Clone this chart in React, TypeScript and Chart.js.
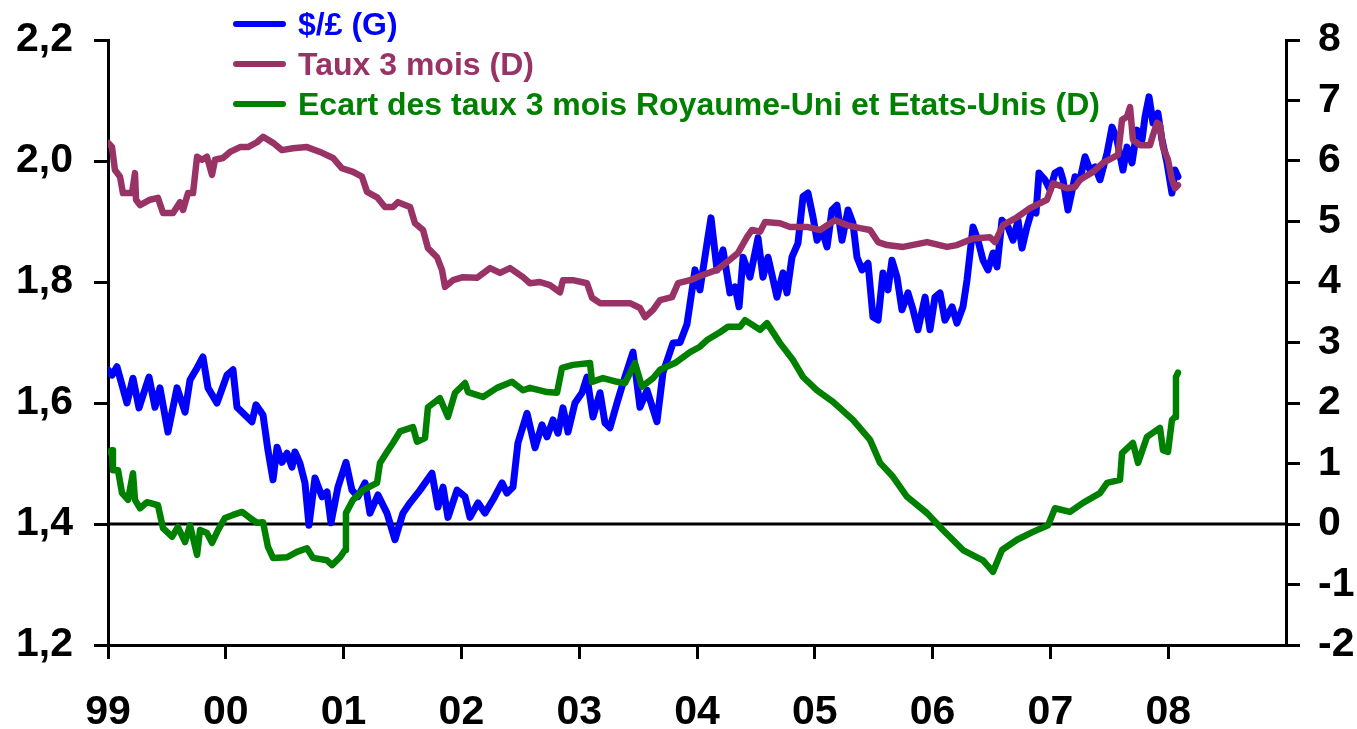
import React, { useEffect, useRef } from "react";
import { Chart, registerables } from "chart.js";

Chart.register(...registerables);

// ---- Data ----
const xTickValues = [1999, 2000, 2001, 2002, 2003, 2004, 2005, 2006, 2007, 2008];
const xTickLabels = ["99", "00", "01", "02", "03", "04", "05", "06", "07", "08"];

const seriesLabels = [
  "$/£ (G)",
  "Taux 3 mois (D)",
  "Ecart des taux 3 mois Royaume-Uni et Etats-Unis (D)",
];

// $/£ (left axis)
const gbpDates = [
  1999.000, 1999.034, 1999.076, 1999.161, 1999.212, 1999.263, 1999.348, 1999.399, 1999.441, 1999.509,
  1999.586, 1999.654, 1999.696, 1999.756, 1999.806, 1999.849, 1999.925, 2000.010, 2000.061, 2000.095,
  2000.180, 2000.222, 2000.256, 2000.316, 2000.358, 2000.401, 2000.435, 2000.477, 2000.520, 2000.562,
  2000.587, 2000.630, 2000.672, 2000.706, 2000.757, 2000.817, 2000.859, 2000.893, 2000.952, 2001.020,
  2001.071, 2001.122, 2001.182, 2001.224, 2001.292, 2001.368, 2001.436, 2001.504, 2001.564, 2001.649,
  2001.750, 2001.801, 2001.844, 2001.886, 2001.963, 2002.031, 2002.073, 2002.141, 2002.200, 2002.268,
  2002.345, 2002.387, 2002.438, 2002.480, 2002.557, 2002.625, 2002.684, 2002.727, 2002.778, 2002.820,
  2002.862, 2002.905, 2002.964, 2003.024, 2003.066, 2003.117, 2003.177, 2003.219, 2003.261, 2003.321,
  2003.372, 2003.457, 2003.516, 2003.576, 2003.660, 2003.711, 2003.796, 2003.856, 2003.915, 2003.983,
  2004.025, 2004.085, 2004.119, 2004.170, 2004.221, 2004.280, 2004.323, 2004.357, 2004.391, 2004.450,
  2004.518, 2004.560, 2004.603, 2004.679, 2004.730, 2004.764, 2004.806, 2004.857, 2004.900, 2004.942,
  2004.985, 2005.019, 2005.061, 2005.104, 2005.146, 2005.188, 2005.231, 2005.282, 2005.324, 2005.358,
  2005.401, 2005.452, 2005.494, 2005.537, 2005.579, 2005.621, 2005.655, 2005.698, 2005.740, 2005.791,
  2005.834, 2005.876, 2005.936, 2005.978, 2006.020, 2006.063, 2006.105, 2006.165, 2006.207, 2006.258,
  2006.292, 2006.343, 2006.385, 2006.428, 2006.470, 2006.513, 2006.547, 2006.589, 2006.640, 2006.683,
  2006.725, 2006.759, 2006.801, 2006.844, 2006.878, 2006.903, 2006.954, 2006.997, 2007.039, 2007.082,
  2007.107, 2007.149, 2007.209, 2007.251, 2007.294, 2007.336, 2007.379, 2007.421, 2007.481, 2007.523,
  2007.565, 2007.616, 2007.650, 2007.693, 2007.735, 2007.778, 2007.803, 2007.837, 2007.871, 2007.913,
  2007.947, 2007.990, 2008.032, 2008.058, 2008.083,
];
const gbpValues = [
  1.655, 1.646, 1.660, 1.600, 1.641, 1.592, 1.643, 1.593, 1.625, 1.552,
  1.625, 1.585, 1.638, 1.658, 1.676, 1.625, 1.600, 1.646, 1.655, 1.593,
  1.577, 1.569, 1.597, 1.580, 1.522, 1.473, 1.527, 1.502, 1.517, 1.494,
  1.519, 1.500, 1.468, 1.398, 1.476, 1.445, 1.453, 1.402, 1.461, 1.502,
  1.456, 1.445, 1.468, 1.418, 1.448, 1.418, 1.374, 1.418, 1.435, 1.456,
  1.484, 1.428, 1.461, 1.411, 1.456, 1.445, 1.411, 1.435, 1.418, 1.440,
  1.468, 1.451, 1.461, 1.534, 1.583, 1.526, 1.564, 1.544, 1.572, 1.550,
  1.592, 1.552, 1.600, 1.617, 1.643, 1.577, 1.617, 1.567, 1.559, 1.600,
  1.633, 1.684, 1.593, 1.621, 1.569, 1.650, 1.699, 1.700, 1.730, 1.820,
  1.787, 1.864, 1.906, 1.820, 1.853, 1.782, 1.792, 1.759, 1.841, 1.808,
  1.873, 1.808, 1.841, 1.775, 1.815, 1.782, 1.841, 1.864, 1.941, 1.947,
  1.907, 1.869, 1.886, 1.858, 1.919, 1.927, 1.869, 1.919, 1.897, 1.841,
  1.820, 1.831, 1.742, 1.737, 1.815, 1.787, 1.836, 1.808, 1.754, 1.782,
  1.754, 1.721, 1.775, 1.721, 1.775, 1.782, 1.737, 1.759, 1.732, 1.759,
  1.803, 1.891, 1.869, 1.836, 1.820, 1.848, 1.825, 1.902, 1.891, 1.869,
  1.902, 1.856, 1.891, 1.919, 1.914, 1.980, 1.969, 1.952, 1.980, 1.985,
  1.969, 1.919, 1.974, 1.969, 2.007, 1.985, 1.990, 1.969, 2.013, 2.056,
  2.035, 1.985, 2.023, 1.997, 2.051, 2.035, 2.073, 2.106, 2.063, 2.079,
  2.035, 1.997, 1.947, 1.985, 1.974,
];

// Taux 3 mois (right axis)
const rateDates = [
  1999.000, 1999.034, 1999.059, 1999.102, 1999.127, 1999.204, 1999.229, 1999.238, 1999.272, 1999.357,
  1999.424, 1999.467, 1999.552, 1999.611, 1999.637, 1999.679, 1999.722, 1999.756, 1999.798, 1999.840,
  1999.883, 1999.908, 1999.976, 2000.036, 2000.121, 2000.188, 2000.265, 2000.316, 2000.401, 2000.477,
  2000.570, 2000.689, 2000.800, 2000.910, 2000.986, 2001.080, 2001.156, 2001.199, 2001.284, 2001.351,
  2001.419, 2001.462, 2001.564, 2001.606, 2001.674, 2001.716, 2001.793, 2001.835, 2001.861, 2001.929,
  2002.014, 2002.132, 2002.243, 2002.328, 2002.413, 2002.523, 2002.582, 2002.667, 2002.752, 2002.837,
  2002.862, 2002.947, 2003.066, 2003.109, 2003.177, 2003.321, 2003.431, 2003.516, 2003.559, 2003.627,
  2003.686, 2003.788, 2003.839, 2003.941, 2004.025, 2004.170, 2004.255, 2004.348, 2004.424, 2004.467,
  2004.535, 2004.577, 2004.705, 2004.790, 2004.934, 2005.044, 2005.171, 2005.273, 2005.384, 2005.469,
  2005.537, 2005.613, 2005.749, 2005.953, 2006.122, 2006.207, 2006.343, 2006.487, 2006.530, 2006.598,
  2006.717, 2006.827, 2006.971, 2007.022, 2007.141, 2007.209, 2007.251, 2007.362, 2007.447, 2007.574,
  2007.608, 2007.650, 2007.676, 2007.701, 2007.761, 2007.845, 2007.871, 2007.905, 2007.930, 2007.956,
  2007.998, 2008.032, 2008.058, 2008.083,
];
const rateValues = [
  6.30, 6.23, 5.85, 5.74, 5.47, 5.47, 5.80, 5.36, 5.27, 5.36,
  5.39, 5.14, 5.14, 5.32, 5.19, 5.47, 5.47, 6.07, 6.02, 6.07,
  5.77, 6.02, 6.05, 6.15, 6.23, 6.23, 6.31, 6.40, 6.30, 6.18,
  6.21, 6.23, 6.15, 6.05, 5.88, 5.82, 5.74, 5.49, 5.40, 5.24,
  5.24, 5.32, 5.24, 4.97, 4.86, 4.56, 4.41, 4.20, 3.92, 4.03,
  4.08, 4.07, 4.23, 4.15, 4.23, 4.08, 3.98, 4.00, 3.95, 3.83,
  4.03, 4.03, 3.98, 3.74, 3.65, 3.65, 3.65, 3.57, 3.42, 3.54,
  3.70, 3.75, 3.98, 4.03, 4.10, 4.20, 4.33, 4.48, 4.74, 4.86,
  4.83, 4.99, 4.97, 4.91, 4.91, 4.86, 5.02, 4.94, 4.89, 4.86,
  4.66, 4.61, 4.58, 4.66, 4.58, 4.61, 4.72, 4.74, 4.66, 4.94,
  5.07, 5.22, 5.36, 5.63, 5.55, 5.57, 5.69, 5.82, 5.97, 6.10,
  6.68, 6.73, 6.89, 6.35, 6.26, 6.26, 6.43, 6.63, 6.60, 6.23,
  6.02, 5.69, 5.55, 5.60,
];

// Ecart des taux 3 mois UK - US (right axis)
const spreadDates = [
  1999.000, 1999.034, 1999.042, 1999.085, 1999.119, 1999.170, 1999.212, 1999.229, 1999.272, 1999.331,
  1999.424, 1999.467, 1999.543, 1999.594, 1999.654, 1999.696, 1999.756, 1999.781, 1999.840, 1999.883,
  1999.934, 1999.993, 2000.061, 2000.138, 2000.205, 2000.265, 2000.316, 2000.358, 2000.401, 2000.520,
  2000.604, 2000.689, 2000.740, 2000.859, 2000.902, 2000.969, 2001.012, 2001.020, 2001.080, 2001.165,
  2001.284, 2001.309, 2001.368, 2001.419, 2001.479, 2001.589, 2001.623, 2001.691, 2001.716, 2001.818,
  2001.886, 2001.946, 2002.031, 2002.056, 2002.183, 2002.302, 2002.430, 2002.523, 2002.582, 2002.727,
  2002.812, 2002.854, 2002.947, 2003.092, 2003.109, 2003.202, 2003.321, 2003.389, 2003.474, 2003.533,
  2003.627, 2003.686, 2003.813, 2003.941, 2004.025, 2004.085, 2004.195, 2004.263, 2004.365, 2004.408,
  2004.535, 2004.594, 2004.705, 2004.815, 2004.900, 2005.019, 2005.155, 2005.324, 2005.469, 2005.554,
  2005.664, 2005.783, 2005.953, 2006.088, 2006.258, 2006.377, 2006.428, 2006.513, 2006.589, 2006.717,
  2006.852, 2006.980, 2007.039, 2007.166, 2007.277, 2007.421, 2007.481, 2007.591, 2007.608, 2007.701,
  2007.744, 2007.820, 2007.930, 2007.956, 2007.998, 2008.032, 2008.058, 2008.066, 2008.083,
];
const spreadValues = [
  1.19, 1.22, 0.89, 0.89, 0.51, 0.40, 0.84, 0.40, 0.26, 0.36,
  0.31, -0.07, -0.21, -0.05, -0.30, -0.02, -0.51, -0.10, -0.15, -0.31,
  -0.10, 0.10, 0.15, 0.20, 0.10, 0.02, 0.03, -0.38, -0.56, -0.55,
  -0.46, -0.40, -0.56, -0.60, -0.68, -0.55, -0.43, 0.18, 0.40, 0.56,
  0.68, 1.01, 1.19, 1.34, 1.53, 1.60, 1.36, 1.42, 1.93, 2.08,
  1.77, 2.17, 2.33, 2.18, 2.10, 2.25, 2.35, 2.21, 2.25, 2.18,
  2.17, 2.58, 2.63, 2.66, 2.35, 2.41, 2.35, 2.33, 2.66, 2.27,
  2.41, 2.55, 2.66, 2.84, 2.93, 3.04, 3.17, 3.26, 3.26, 3.37,
  3.21, 3.32, 2.99, 2.71, 2.43, 2.21, 2.02, 1.72, 1.39, 1.01,
  0.78, 0.45, 0.18, -0.10, -0.43, -0.55, -0.60, -0.79, -0.43, -0.26,
  -0.13, -0.02, 0.26, 0.20, 0.35, 0.51, 0.68, 0.73, 1.17, 1.34,
  1.01, 1.44, 1.59, 1.22, 1.19, 1.72, 1.77, 2.43, 2.50,
];

const seriesColors = ["#0000FF", "#993366", "#008000"];

const FONT = "'Liberation Sans', Arial, Helvetica, sans-serif";

const toPoints = (xs: number[], ys: number[]) => xs.map((x, i) => ({ x, y: ys[i] }));

export default function App() {
  const canvasRef = useRef<HTMLCanvasElement | null>(null);

  useEffect(() => {
    if (!canvasRef.current) return;

    const zeroLine = {
      id: "zeroLine",
      beforeDatasetsDraw(chart: any) {
        const { ctx, chartArea, scales } = chart;
        const y = scales.y2.getPixelForValue(0);
        ctx.save();
        ctx.strokeStyle = "#000";
        ctx.lineWidth = 3;
        ctx.beginPath();
        ctx.moveTo(chartArea.left, y);
        ctx.lineTo(chartArea.right, y);
        ctx.stroke();
        ctx.restore();
      },
    };

    const legendPlugin = {
      id: "customLegend",
      afterDraw(chart: any) {
        const { ctx } = chart;
        const rows = [24, 64, 104];
        ctx.save();
        ctx.font = `bold 32px ${FONT}`;
        ctx.textBaseline = "middle";
        ctx.textAlign = "left";
        seriesLabels.forEach((label, i) => {
          const y = rows[i];
          ctx.strokeStyle = seriesColors[i];
          ctx.lineWidth = 6;
          ctx.lineCap = "round";
          ctx.beginPath();
          ctx.moveTo(236, y);
          ctx.lineTo(283, y);
          ctx.stroke();
          ctx.fillStyle = seriesColors[i];
          ctx.fillText(label, 298, y + 2);
        });
        ctx.restore();
      },
    };

    const tickFont = { family: FONT, size: 41, weight: "bold" as const };

    const vertFit = (w: number) => (scale: any) => {
      scale.width = w;
      scale.paddingTop = 0;
      scale.paddingBottom = 0;
    };

    const chart = new Chart(canvasRef.current, {
      type: "line",
      data: {
        datasets: [
          {
            label: seriesLabels[0],
            data: toPoints(gbpDates, gbpValues),
            borderColor: seriesColors[0],
            borderWidth: 7,
            pointRadius: 0,
            yAxisID: "y",
            order: 3,
            borderJoinStyle: "round",
            borderCapStyle: "round",
          },
          {
            label: seriesLabels[1],
            data: toPoints(rateDates, rateValues),
            borderColor: seriesColors[1],
            borderWidth: 6.5,
            pointRadius: 0,
            yAxisID: "y2",
            order: 1,
            borderJoinStyle: "round",
            borderCapStyle: "round",
          },
          {
            label: seriesLabels[2],
            data: toPoints(spreadDates, spreadValues),
            borderColor: seriesColors[2],
            borderWidth: 6.5,
            pointRadius: 0,
            yAxisID: "y2",
            order: 2,
            borderJoinStyle: "round",
            borderCapStyle: "round",
          },
        ],
      },
      options: {
        animation: false,
        responsive: false,
        maintainAspectRatio: false,
        layout: { padding: { top: 40, left: 0, right: 0, bottom: 0 } },
        plugins: { legend: { display: false }, tooltip: { enabled: false } },
        scales: {
          x: {
            type: "linear",
            min: 1999,
            max: 2009,
            afterBuildTicks: (scale: any) => {
              scale.ticks = xTickValues.map((v) => ({ value: v }));
            },
            afterFit: (scale: any) => {
              scale.height = 84;
              scale.paddingLeft = 0;
              scale.paddingRight = 0;
            },
            ticks: {
              autoSkip: false,
              maxRotation: 0,
              color: "#000",
              font: tickFont,
              padding: 29,
              callback: (_v: any, i: number) => xTickLabels[i],
            },
            grid: {
              display: true,
              drawOnChartArea: false,
              drawTicks: true,
              tickLength: 14,
              color: "#000",
              lineWidth: 3,
            },
            border: { display: true, color: "#000", width: 3 },
          },
          y: {
            type: "linear",
            position: "left",
            min: 1.2,
            max: 2.2,
            afterFit: vertFit(108),
            ticks: {
              stepSize: 0.2,
              color: "#000",
              font: tickFont,
              padding: 21,
              callback: (v: any) => Number(v).toFixed(1).replace(".", ","),
            },
            grid: {
              display: true,
              drawOnChartArea: false,
              drawTicks: true,
              tickLength: 14,
              color: "#000",
              lineWidth: 3,
            },
            border: { display: true, color: "#000", width: 3 },
          },
          y2: {
            type: "linear",
            position: "right",
            min: -2,
            max: 8,
            afterFit: vertFit(71),
            ticks: {
              stepSize: 1,
              color: "#000",
              font: tickFont,
              padding: 18,
              callback: (v: any) => String(v),
            },
            grid: {
              display: true,
              drawOnChartArea: false,
              drawTicks: true,
              tickLength: 14,
              color: "#000",
              lineWidth: 3,
            },
            border: { display: true, color: "#000", width: 3 },
          },
        },
      },
      plugins: [zeroLine, legendPlugin],
    } as any);

    return () => chart.destroy();
  }, []);

  return (
    <div style={{ position: "absolute", left: 0, top: 0, width: 1357, height: 729, background: "#fff" }}>
      <canvas ref={canvasRef} width={1357} height={729} style={{ display: "block" }} />
    </div>
  );
}
